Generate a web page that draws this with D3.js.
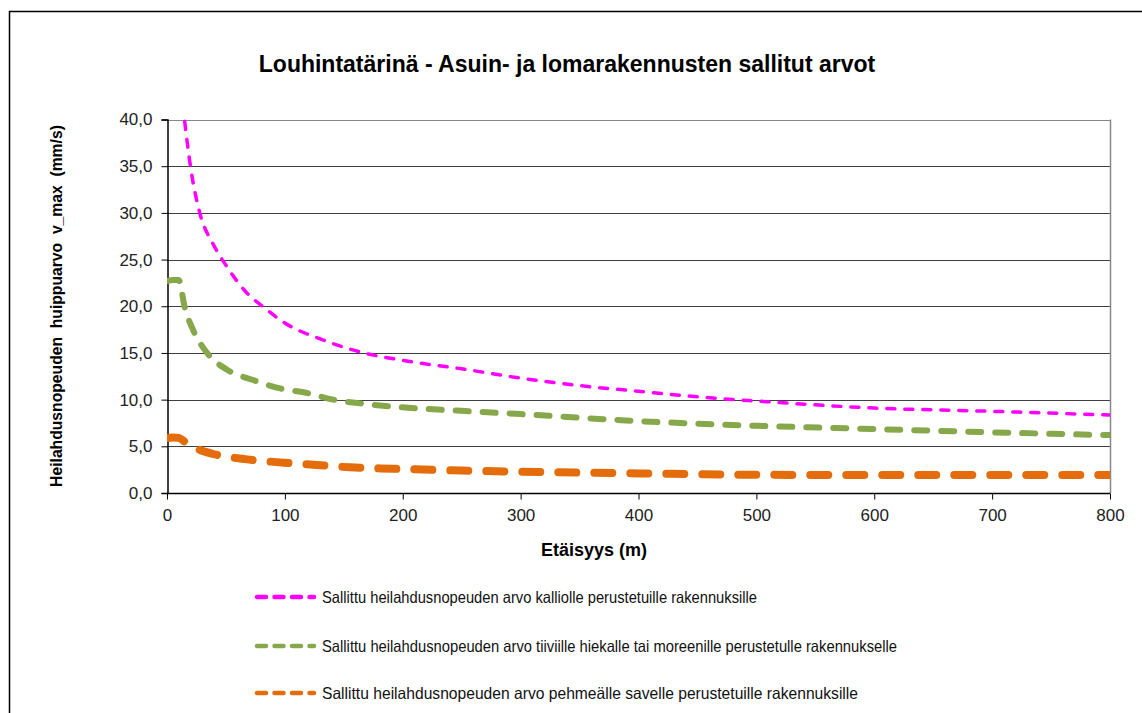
<!DOCTYPE html>
<html><head><meta charset="utf-8">
<script src="https://cdn.jsdelivr.net/npm/d3@7"></script>
<style>body{margin:0;background:#fff}svg{display:block}</style>
</head><body>
<svg id="c" width="1142" height="713"></svg>
<script>
const title = "Louhintatärinä - Asuin- ja lomarakennusten sallitut arvot";
const yTitle = "Heilahdusnopeuden  huippuarvo  v_max  (mm/s)";
const xTitle = "Etäisyys (m)";
const xTicks = [0,100,200,300,400,500,600,700,800];
const yTicks = [0,5,10,15,20,25,30,35,40];

const rockX = [15,20,28,39,51,68,82,100,130,164,200,250,300,350,400,450,500,600,700,800];
const rockV = [39.8,34.9,29.9,26.7,24.2,21.4,19.9,18.2,16.5,15.1,14.2,13.3,12.3,11.5,10.9,10.3,9.85,9.1,8.75,8.35];
const sandX = [0,5,10,15,22,34,51,73,96,119,141,164,192,250,300,400,500,600,700,800];
const sandV = [22.7,22.8,22.8,19.9,17.5,15.0,13.2,12.1,11.2,10.7,10.0,9.6,9.25,8.8,8.45,7.7,7.2,6.85,6.5,6.2];
const clayX = [0,5,10,15,28,42,68,99,127,155,192,250,300,400,500,600,700,800];
const clayV = [5.9,5.95,5.9,5.5,4.6,4.1,3.6,3.25,3.0,2.75,2.6,2.4,2.28,2.1,1.95,1.93,1.92,1.92];

const seriesNames = [
 "Sallittu heilahdusnopeuden arvo kalliolle perustetuille rakennuksille",
 "Sallittu heilahdusnopeuden arvo tiiviille hiekalle tai moreenille perustetulle rakennukselle",
 "Sallittu heilahdusnopeuden arvo pehmeälle savelle perustetuille rakennuksille"
];
const series = [
 {x: rockX, v: rockV, color: "#FF00FF", w: 3.5, dash: "8,10"},
 {x: sandX, v: sandV, color: "#86A84A", w: 6, dash: "13,14"},
 {x: clayX, v: clayV, color: "#E46C0A", w: 8, dash: "18,18"}
];

const FONT = "Liberation Sans, Arial, sans-serif";
const svg = d3.select("#c");
const L = 167, R = 1110, T = 119.5, B = 493;
const x = d3.scaleLinear().domain([0,800]).range([L,R]);
const y = d3.scaleLinear().domain([0,40]).range([B,T]);

// outer border
svg.append("path").attr("d","M9.5,720 V11.5 H1150").attr("fill","none").attr("stroke","#000").attr("stroke-width",1.5);

// title
svg.append("text").attr("x",567).attr("y",72).attr("text-anchor","middle")
 .attr("font-family",FONT).attr("font-weight","bold").attr("font-size",23)
 .attr("fill","#000").text(title);

// gridlines
svg.append("g").selectAll("line").data(yTicks.filter(d=>d>0)).join("line")
 .attr("x1",L).attr("x2",R).attr("y1",d=>Math.round(y(d))+0.5).attr("y2",d=>Math.round(y(d))+0.5)
 .attr("stroke",d=>d===40?"#888":"#404040").attr("stroke-width",1);
// right border
svg.append("line").attr("x1",R+0.5).attr("x2",R+0.5).attr("y1",T).attr("y2",B).attr("stroke","#888").attr("stroke-width",1.5);

// axes
const fmt = d => d.toFixed(1).replace(".", ",");
const yAxis = svg.append("g").attr("transform",`translate(${L+0.5},0)`)
 .call(d3.axisLeft(y).tickValues(yTicks).tickFormat(fmt).tickSize(6).tickPadding(9));
const xAxis = svg.append("g").attr("transform",`translate(0,${B+0.5})`)
 .call(d3.axisBottom(x).tickValues(xTicks).tickFormat(d3.format("d")).tickSize(6).tickPadding(9));
[yAxis,xAxis].forEach(g=>{
 g.selectAll("path.domain").attr("stroke","#000").attr("stroke-width",1.5);
 g.selectAll(".tick line").attr("stroke","#000");
 g.selectAll("text").attr("font-family",FONT).attr("font-size",17).attr("fill","#222");
});
xAxis.select("path.domain").attr("d",`M${L},0H${R}`);

// axis titles
svg.append("text").attr("transform","translate(62,306) rotate(-90)").attr("text-anchor","middle")
 .attr("font-family",FONT).attr("font-weight","bold").attr("font-size",15.7)
 .attr("fill","#000").style("white-space","pre").text(yTitle);
svg.append("text").attr("x",594).attr("y",556).attr("text-anchor","middle")
 .attr("font-family",FONT).attr("font-weight","bold").attr("font-size",18)
 .attr("fill","#000").text(xTitle);

// lines
svg.append("clipPath").attr("id","clip").append("rect").attr("x",L).attr("y",T-6).attr("width",R-L).attr("height",B-T+6);
const line = d3.line().x(d=>x(d[0])).y(d=>y(d[1])).curve(d3.curveMonotoneX);
const lg = svg.append("g").attr("clip-path","url(#clip)");
series.forEach(s=>{
 const pts = s.x.map((xx,i)=>[xx,s.v[i]]);
 lg.append("path").datum(pts).attr("d",line).attr("fill","none").attr("stroke",s.color)
  .attr("stroke-width",s.w).attr("stroke-dasharray",s.dash).attr("stroke-linecap","round");
});

// legend
const legY = [597, 646, 693];
const legTextW = [435, 575, 536];
series.forEach((s,i)=>{
 svg.append("line").attr("x1",257).attr("x2",314).attr("y1",legY[i]).attr("y2",legY[i])
  .attr("stroke",s.color).attr("stroke-width",4.5).attr("stroke-dasharray","9,8.5").attr("stroke-linecap","round");
 svg.append("text").attr("x",322).attr("y",legY[i]).attr("dy","0.36em")
  .attr("font-family",FONT).attr("font-size",16.5)
  .attr("textLength",legTextW[i]).attr("lengthAdjust","spacingAndGlyphs")
  .attr("fill","#111").text(seriesNames[i]);
});
</script>
</body></html>
